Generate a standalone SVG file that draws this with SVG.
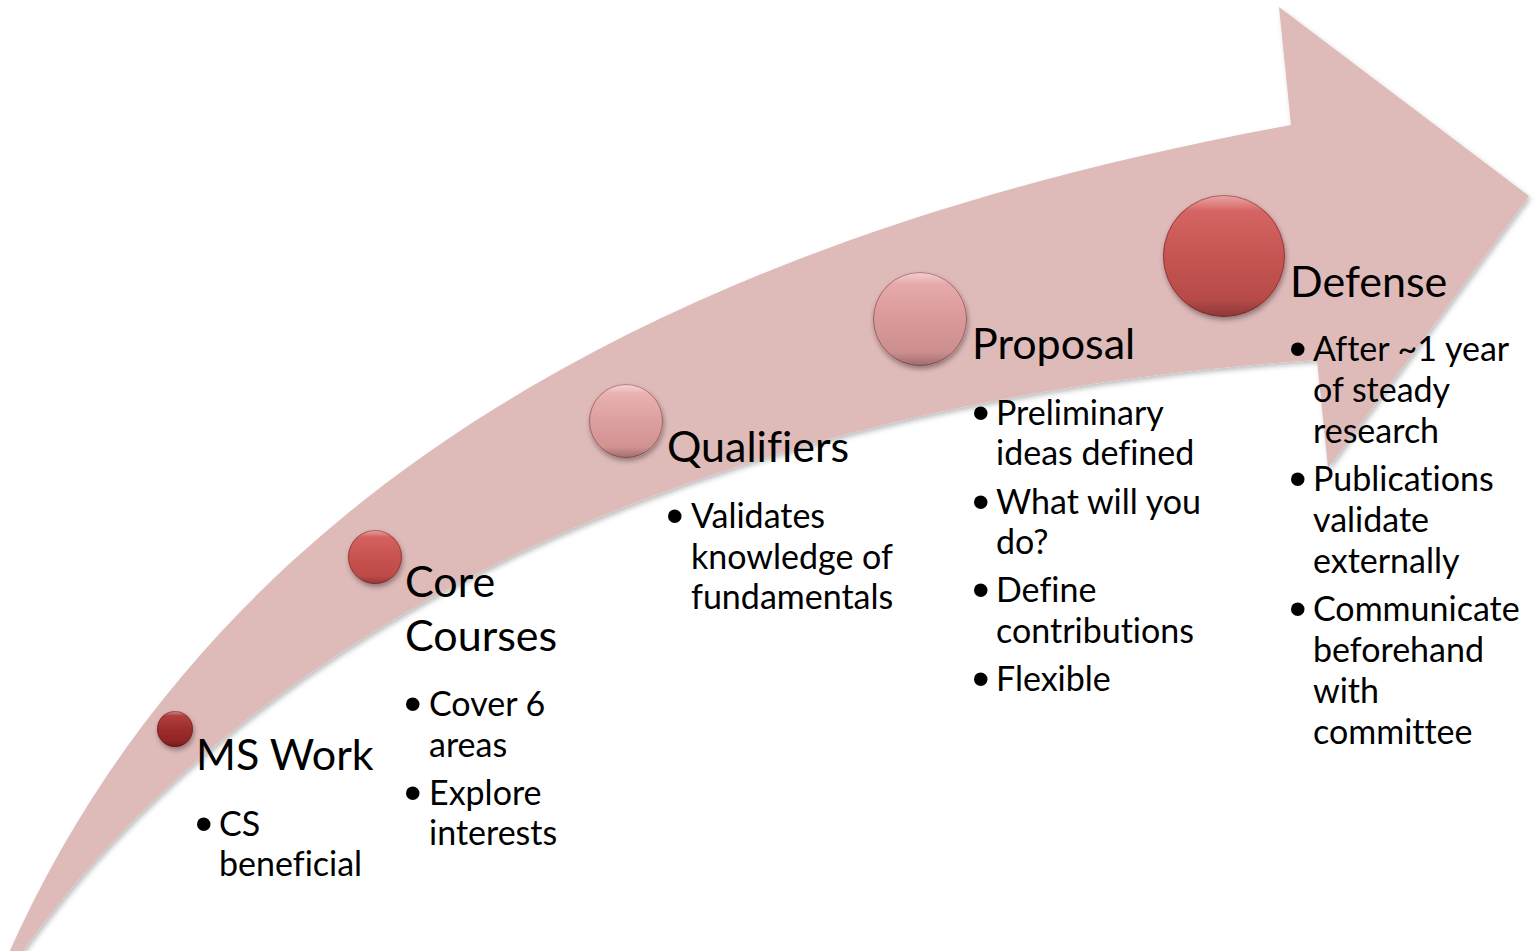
<svg xmlns="http://www.w3.org/2000/svg" width="1537" height="951" viewBox="0 0 1537 951">
<defs>
  <filter id="shadow" x="-5%" y="-5%" width="110%" height="110%">
    <feDropShadow dx="2" dy="3" stdDeviation="2.5" flood-color="#000" flood-opacity="0.25"/>
  </filter>
  <filter id="ballShadow" x="-30%" y="-30%" width="160%" height="160%">
    <feDropShadow dx="1" dy="3" stdDeviation="2.5" flood-color="#000" flood-opacity="0.35"/>
  </filter>
  <linearGradient id="bevel" x1="0" y1="0" x2="0" y2="1">
    <stop offset="0" stop-color="#fff" stop-opacity="0.45"/>
    <stop offset="0.13" stop-color="#fff" stop-opacity="0.05"/>
    <stop offset="0.5" stop-color="#fff" stop-opacity="0"/>
    <stop offset="0.85" stop-color="#000" stop-opacity="0"/>
    <stop offset="1" stop-color="#000" stop-opacity="0.22"/>
  </linearGradient>
  <linearGradient id="gMS" x1="0" y1="0" x2="0" y2="1">
    <stop offset="0" stop-color="#B23A3A"/>
    <stop offset="1" stop-color="#8A2020"/>
  </linearGradient>
  <linearGradient id="gCore" x1="0" y1="0" x2="0" y2="1">
    <stop offset="0" stop-color="#D65C5B"/>
    <stop offset="1" stop-color="#B94845"/>
  </linearGradient>
  <linearGradient id="gQual" x1="0" y1="0" x2="0" y2="1">
    <stop offset="0" stop-color="#EDB2B2"/>
    <stop offset="1" stop-color="#CC8C8C"/>
  </linearGradient>
  <linearGradient id="gProp" x1="0" y1="0" x2="0" y2="1">
    <stop offset="0" stop-color="#E9A9A9"/>
    <stop offset="1" stop-color="#C88A8A"/>
  </linearGradient>
  <linearGradient id="gDef" x1="0" y1="0" x2="0" y2="1">
    <stop offset="0" stop-color="#D8605E"/>
    <stop offset="1" stop-color="#B24846"/>
  </linearGradient>
  <style>
    .title { font-family: Lato, "Open Sans", "Liberation Sans", sans-serif; font-size: 43px; fill: #000; font-variant-ligatures: none; font-feature-settings: "liga" 0, "clig" 0; }
    .item { font-family: Lato, "Open Sans", "Liberation Sans", sans-serif; font-size: 34px; fill: #000; font-variant-ligatures: none; font-feature-settings: "liga" 0, "clig" 0; }
    .dot { font-family: "Liberation Sans", Arial, sans-serif; font-size: 50px; fill: #000; }
    .rim { fill: none; stroke: #5a2020; stroke-opacity: 0.45; stroke-width: 1; }
    .bev { fill: url(#bevel); }
  </style>
</defs>
<rect width="1537" height="951" fill="#fff"/>

<g id="connectors">
  <path id="arrow" filter="url(#shadow)" fill="#DEBAB9"
        d="M 8,955 C 210,500 660,240 1291,125 L 1279,7 L 1529,196 L 1328,468 L 1317,360 C 700,400 250,630 20,955 Z"/>
</g>

<g id="node-ms-work">
  <g filter="url(#ballShadow)">
    <circle cx="175" cy="729" r="18" fill="url(#gMS)"/>
  </g>
  <circle cx="175" cy="729" r="18" class="bev"/>
  <circle cx="175" cy="729" r="17.5" class="rim"/>
  <text class="title" x="196" y="770">MS Work</text>
  <text class="dot" x="195" y="841">•</text>
  <text class="item" x="219" y="836">CS</text>
  <text class="item" x="219" y="876">beneficial</text>
</g>

<g id="node-core-courses">
  <g filter="url(#ballShadow)">
    <circle cx="375" cy="557" r="27" fill="url(#gCore)"/>
  </g>
  <circle cx="375" cy="557" r="27" class="bev"/>
  <circle cx="375" cy="557" r="26.5" class="rim"/>
  <text class="title" x="405" y="597">Core</text>
  <text class="title" x="405" y="651">Courses</text>
  <text class="dot" x="404" y="721">•</text>
  <text class="item" x="429" y="716">Cover 6</text>
  <text class="item" x="429" y="757">areas</text>
  <text class="dot" x="404" y="810">•</text>
  <text class="item" x="429" y="805">Explore</text>
  <text class="item" x="429" y="845">interests</text>
</g>

<g id="node-qualifiers">
  <g filter="url(#ballShadow)">
    <circle cx="626" cy="421" r="37" fill="url(#gQual)"/>
  </g>
  <circle cx="626" cy="421" r="37" class="bev"/>
  <circle cx="626" cy="421" r="36.5" class="rim"/>
  <text class="title" x="667" y="462">Qualifiers</text>
  <text class="dot" x="666" y="533">•</text>
  <text class="item" x="691" y="528">Validates</text>
  <text class="item" x="691" y="569">knowledge of</text>
  <text class="item" x="691" y="609">fundamentals</text>
</g>

<g id="node-proposal">
  <g filter="url(#ballShadow)">
    <circle cx="920" cy="319" r="47" fill="url(#gProp)"/>
  </g>
  <circle cx="920" cy="319" r="47" class="bev"/>
  <circle cx="920" cy="319" r="46.5" class="rim"/>
  <text class="title" x="972" y="359">Proposal</text>
  <text class="dot" x="972" y="430">•</text>
  <text class="item" x="996" y="425">Preliminary</text>
  <text class="item" x="996" y="465">ideas defined</text>
  <text class="dot" x="972" y="519">•</text>
  <text class="item" x="996" y="514">What will you</text>
  <text class="item" x="996" y="554">do?</text>
  <text class="dot" x="972" y="607">•</text>
  <text class="item" x="996" y="602">Define</text>
  <text class="item" x="996" y="643">contributions</text>
  <text class="dot" x="972" y="696">•</text>
  <text class="item" x="996" y="691">Flexible</text>
</g>

<g id="node-defense">
  <g filter="url(#ballShadow)">
    <circle cx="1224" cy="256" r="61" fill="url(#gDef)"/>
  </g>
  <circle cx="1224" cy="256" r="61" class="bev"/>
  <circle cx="1224" cy="256" r="60.5" class="rim"/>
  <text class="title" x="1290" y="297">Defense</text>
  <text class="dot" x="1289" y="366">•</text>
  <text class="item" x="1313" y="361">After ~1 year</text>
  <text class="item" x="1313" y="402">of steady</text>
  <text class="item" x="1313" y="443">research</text>
  <text class="dot" x="1289" y="496">•</text>
  <text class="item" x="1313" y="491">Publications</text>
  <text class="item" x="1313" y="532">validate</text>
  <text class="item" x="1313" y="573">externally</text>
  <text class="dot" x="1289" y="626">•</text>
  <text class="item" x="1313" y="621">Communicate</text>
  <text class="item" x="1313" y="662">beforehand</text>
  <text class="item" x="1313" y="703">with</text>
  <text class="item" x="1313" y="744">committee</text>
</g>
</svg>
